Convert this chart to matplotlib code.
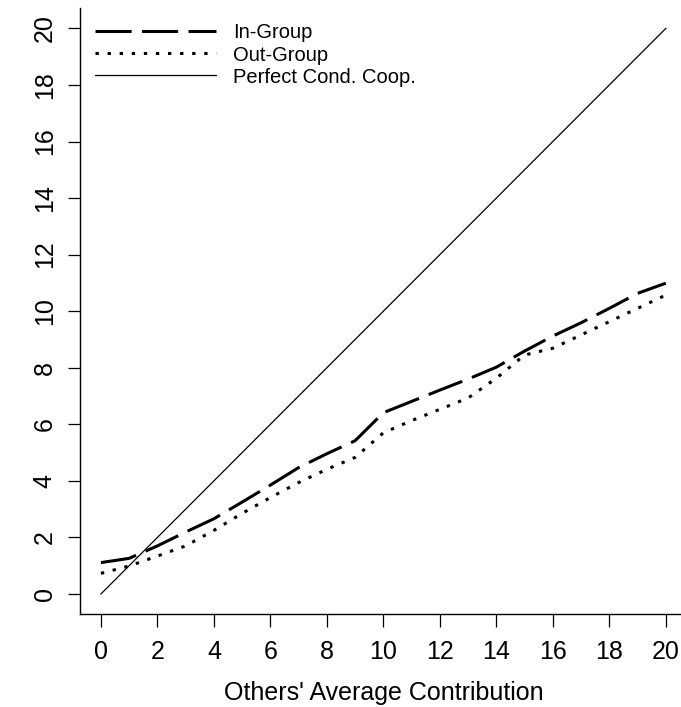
import matplotlib
matplotlib.use("Agg")
import matplotlib.pyplot as plt
import numpy as np

plt.rcParams['font.family'] = ['Liberation Sans', 'DejaVu Sans']
plt.rcParams['lines.scale_dashes'] = False

others = list(range(0, 21))
in_group = [1.11, 1.26, 1.70, 2.19, 2.66, 3.25, 3.85, 4.47, 4.96, 5.42, 6.41,
            6.81, 7.21, 7.60, 8.02, 8.59, 9.12, 9.59, 10.10, 10.63, 10.99]
out_group = [0.73, 0.99, 1.34, 1.70, 2.25, 2.85, 3.41, 3.94, 4.41, 4.83, 5.70,
             6.13, 6.53, 6.93, 7.63, 8.45, 8.69, 9.16, 9.63, 10.10, 10.57]
perfect_x = [0, 20]
perfect_y = [0, 20]
ticks = list(range(0, 21, 2))

W, H = 681, 707
fig = plt.figure(figsize=(W / 100, H / 100), dpi=100)
left_px, right_px, bottom_px, top_px = 80.3, 687.0, 613.5, 8.3
ax = fig.add_axes([left_px / W, 1 - bottom_px / H,
                   (right_px - left_px) / W, (bottom_px - top_px) / H])
ax.set_xlim(-0.73, 20.75)
ax.set_ylim(-0.69, 20.71)

ax.plot(others, in_group, color='black', lw=2.2, linestyle=(0, (26, 7.5)),
        label='In-Group')
ax.plot(others, out_group, color='black', lw=2.2, linestyle=(0, (2.4, 6.3)),
        label='Out-Group')
ax.plot(perfect_x, perfect_y, color='black', lw=0.9,
        label='Perfect Cond. Coop.')

for s in ['top', 'right']:
    ax.spines[s].set_visible(False)
for s in ['left', 'bottom']:
    ax.spines[s].set_linewidth(1.0)

ax.set_xticks(ticks)
ax.set_yticks(ticks)
ax.tick_params(axis='both', direction='out', length=9, width=0.9,
               labelsize=18)
ax.tick_params(axis='x', pad=10)
ax.tick_params(axis='y', pad=8)
for lab in ax.get_yticklabels():
    lab.set_rotation(90)
    lab.set_va('center')

ax.set_xlabel("Others' Average Contribution", fontsize=18, labelpad=12)

leg = ax.legend(loc='upper left', bbox_to_anchor=(95 / W, 1 - 23.5 / H),
                bbox_transform=fig.transFigure, frameon=False,
                borderaxespad=0, borderpad=0, fontsize=14.5,
                handlelength=6.0, handletextpad=0.85, labelspacing=0.15)

fig.savefig('out.png', dpi=100)
